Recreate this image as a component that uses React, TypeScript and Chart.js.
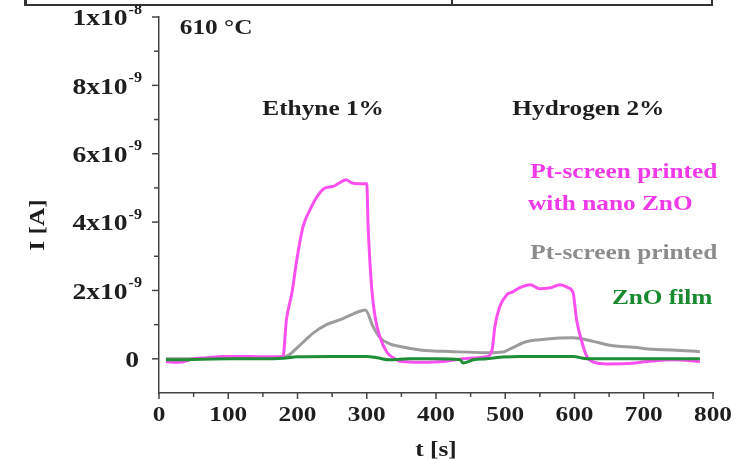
import React, { useEffect, useRef } from 'react';
import { Chart, registerables } from 'chart.js';

Chart.register(...registerables);

// Current in units of 1e-9 A, time in s
const magentaT = [10, 20, 30, 50, 70, 90, 120, 150, 179, 184, 192, 199, 208, 218, 228, 240, 251, 261, 270, 278, 288, 300, 302, 307, 312, 319, 329, 338, 350, 380, 410, 439, 460, 473, 481, 485, 492, 502, 511, 521, 536, 550, 565, 579, 591, 598, 603, 611, 618, 627, 647, 676, 705, 742, 781];
const magentaI = [-0.08, -0.1, -0.1, 0.0, 0.03, 0.07, 0.07, 0.06, 0.07, 1.14, 1.93, 2.9, 3.87, 4.36, 4.74, 5.0, 5.04, 5.15, 5.24, 5.15, 5.12, 5.12, 3.87, 2.1, 1.23, 0.64, 0.2, 0.03, -0.08, -0.1, -0.08, 0.0, 0.03, 0.06, 0.26, 0.94, 1.52, 1.87, 1.96, 2.08, 2.17, 2.05, 2.08, 2.17, 2.08, 1.93, 1.14, 0.47, 0.06, -0.09, -0.15, -0.14, -0.08, -0.03, -0.08];

const grayT = [10, 50, 100, 150, 182, 204, 223, 242, 261, 280, 298, 309, 319, 333, 348, 377, 425, 473, 497, 511, 530, 550, 579, 598, 627, 656, 685, 713, 742, 781];
const grayI = [0.0, 0.0, 0.03, 0.03, 0.06, 0.41, 0.76, 1.0, 1.14, 1.31, 1.43, 0.95, 0.62, 0.44, 0.36, 0.26, 0.21, 0.18, 0.2, 0.33, 0.5, 0.56, 0.61, 0.62, 0.51, 0.38, 0.34, 0.28, 0.26, 0.21];

const greenT = [10, 30, 60, 100, 150, 180, 200, 250, 300, 315, 333, 360, 400, 435, 439, 454, 473, 497, 521, 560, 598, 618, 660, 720, 781];
const greenI = [-0.03, -0.03, -0.01, 0.0, 0.0, 0.02, 0.06, 0.07, 0.07, 0.03, -0.03, 0.0, 0.0, -0.03, -0.12, -0.03, 0.0, 0.05, 0.07, 0.07, 0.07, 0.0, 0.0, 0.0, 0.0];

const xMajorTicks = [0, 100, 200, 300, 400, 500, 600, 700, 800];
const xMinorTicks = [50, 150, 250, 350, 450, 550, 650, 750];
const yMajorTicks = [0, 2, 4, 6, 8, 10];
const yMinorTicks = [1, 3, 5, 7, 9];
const yTickBase = ['0', '2x10', '4x10', '6x10', '8x10', '1x10'];
const yTickExp = ['', '-9', '-9', '-9', '-9', '-8'];

const MAGENTA_LINE = '#fb50f0';
const MAGENTA_TEXT = '#f03ae8';
const GRAY_LINE = '#9c9c9c';
const GRAY_TEXT = '#8c8c8c';
const GREEN_LINE = '#1e8f36';
const GREEN_TEXT = '#1a8a30';
const AXIS = '#444444';
const TEXT = '#1e1e1e';
const FONT = '"Liberation Serif", "Times New Roman", serif';
const SX = 1.15;

const pts = (t: number[], v: number[]) => t.map((x, i) => ({ x, y: v[i] }));

export default function App() {
  const ref = useRef<HTMLCanvasElement>(null);

  useEffect(() => {
    document.body.style.margin = '0';
    const canvas = ref.current!;

    const deco = {
      id: 'deco',
      afterDraw(chart: any) {
        const { ctx, chartArea } = chart;
        const xs = chart.scales.x;
        const ys = chart.scales.y;
        const { left, bottom } = chartArea;
        const text = (s: string, x: number, y: number, align: CanvasTextAlign) => {
          ctx.save();
          ctx.translate(x, y);
          ctx.scale(SX, 1);
          ctx.textAlign = align;
          ctx.textBaseline = 'middle';
          ctx.fillText(s, 0, 0);
          ctx.restore();
        };
        ctx.save();
        ctx.strokeStyle = AXIS;
        ctx.lineWidth = 1.5;
        const line = (x1: number, y1: number, x2: number, y2: number) => {
          ctx.beginPath();
          ctx.moveTo(x1, y1);
          ctx.lineTo(x2, y2);
          ctx.stroke();
        };
        xMajorTicks.forEach((v) => { const p = xs.getPixelForValue(v); line(p, bottom, p, bottom + 6); });
        xMinorTicks.forEach((v) => { const p = xs.getPixelForValue(v); line(p, bottom, p, bottom + 4); });
        yMajorTicks.forEach((v) => { const p = ys.getPixelForValue(v); line(left - 7, p, left, p); });
        yMinorTicks.forEach((v) => { const p = ys.getPixelForValue(v); line(left - 5, p, left, p); });

        ctx.fillStyle = TEXT;
        ctx.font = `bold 22px ${FONT}`;
        xMajorTicks.forEach((v) => {
          text(String(v), xs.getPixelForValue(v), bottom + 22, 'center');
        });

        yMajorTicks.forEach((v, i) => {
          const p = ys.getPixelForValue(v);
          const exp = yTickExp[i];
          ctx.font = `bold 14px ${FONT}`;
          const ew = exp ? ctx.measureText(exp).width * SX : 0;
          const right = exp ? left - 18 - ew : left - 20;
          ctx.font = `bold 24px ${FONT}`;
          text(yTickBase[i], right, p + 2, 'right');
          if (exp) {
            ctx.font = `bold 14px ${FONT}`;
            text(exp, right + 1, p - 7, 'left');
          }
        });

        // axis titles
        ctx.font = `bold 22px ${FONT}`;
        text('t [s]', (chartArea.left + chartArea.right) / 2, bottom + 57, 'center');
        ctx.save();
        ctx.translate(38, 225);
        ctx.rotate(-Math.PI / 2);
        ctx.scale(SX, 1);
        ctx.textAlign = 'center';
        ctx.textBaseline = 'middle';
        ctx.fillText('I [A]', 0, 0);
        ctx.restore();

        // annotations (data coordinates)
        const at = (t: number, v: number) => [xs.getPixelForValue(t), ys.getPixelForValue(v)];
        ctx.font = `bold 22px ${FONT}`;
        let [ax, ay] = at(30, 9.66);
        text('610 °C', ax, ay, 'left');
        [ax, ay] = at(237, 7.29);
        text('Ethyne 1%', ax, ay, 'center');
        [ax, ay] = at(620, 7.29);
        text('Hydrogen 2%', ax, ay, 'center');
        ctx.fillStyle = MAGENTA_TEXT;
        [ax, ay] = at(536, 5.45);
        text('Pt-screen printed', ax, ay, 'left');
        [ax, ay] = at(533, 4.51);
        text('with nano ZnO', ax, ay, 'left');
        ctx.fillStyle = GRAY_TEXT;
        [ax, ay] = at(536, 3.1);
        text('Pt-screen printed', ax, ay, 'left');
        ctx.fillStyle = GREEN_TEXT;
        [ax, ay] = at(654, 1.76);
        text('ZnO film', ax, ay, 'left');
        ctx.restore();
      },
    };

    const common = {
      borderWidth: 3,
      pointRadius: 0,
      fill: false,
      cubicInterpolationMode: 'monotone' as const,
    };

    const chart = new Chart(canvas, {
      type: 'line',
      data: {
        datasets: [
          { label: 'ZnO film', data: pts(greenT, greenI), borderColor: GREEN_LINE, ...common },
          { label: 'Pt-screen printed with nano ZnO', data: pts(magentaT, magentaI), borderColor: MAGENTA_LINE, ...common },
          { label: 'Pt-screen printed', data: pts(grayT, grayI), borderColor: GRAY_LINE, ...common },
        ],
      },
      options: {
        animation: false,
        responsive: false,
        events: [],
        layout: { padding: { top: 17, right: 36, left: 0, bottom: 0 } },
        plugins: { legend: { display: false }, tooltip: { enabled: false }, title: { display: false } },
        scales: {
          x: {
            type: 'linear',
            min: 0,
            max: 800,
            grid: { display: false, drawTicks: false },
            border: { display: true, color: AXIS, width: 1.5 },
            ticks: { display: false },
            afterFit: (s: any) => { s.height = 67; },
          },
          y: {
            type: 'linear',
            min: -1,
            max: 10,
            grid: { display: false, drawTicks: false },
            border: { display: true, color: AXIS, width: 1.5 },
            ticks: { display: false },
            afterFit: (s: any) => { s.width = 159; },
          },
        },
      },
      plugins: [deco],
    });
    return () => chart.destroy();
  }, []);

  const bar = (l: number, t: number, w: number, h: number) => (
    <div style={{ position: 'absolute', left: l, top: t, width: w, height: h, background: '#333' }} />
  );

  return (
    <div style={{ position: 'relative', width: 749, height: 460, overflow: 'hidden', background: '#fff' }}>
      <canvas ref={ref} width={749} height={460} style={{ display: 'block', width: 749, height: 460 }} />
      {bar(25, 4, 688, 1.5)}
      {bar(24, 0, 2.5, 6)}
      {bar(451, 0, 1.5, 6)}
      {bar(711, 0, 1.5, 6)}
    </div>
  );
}
